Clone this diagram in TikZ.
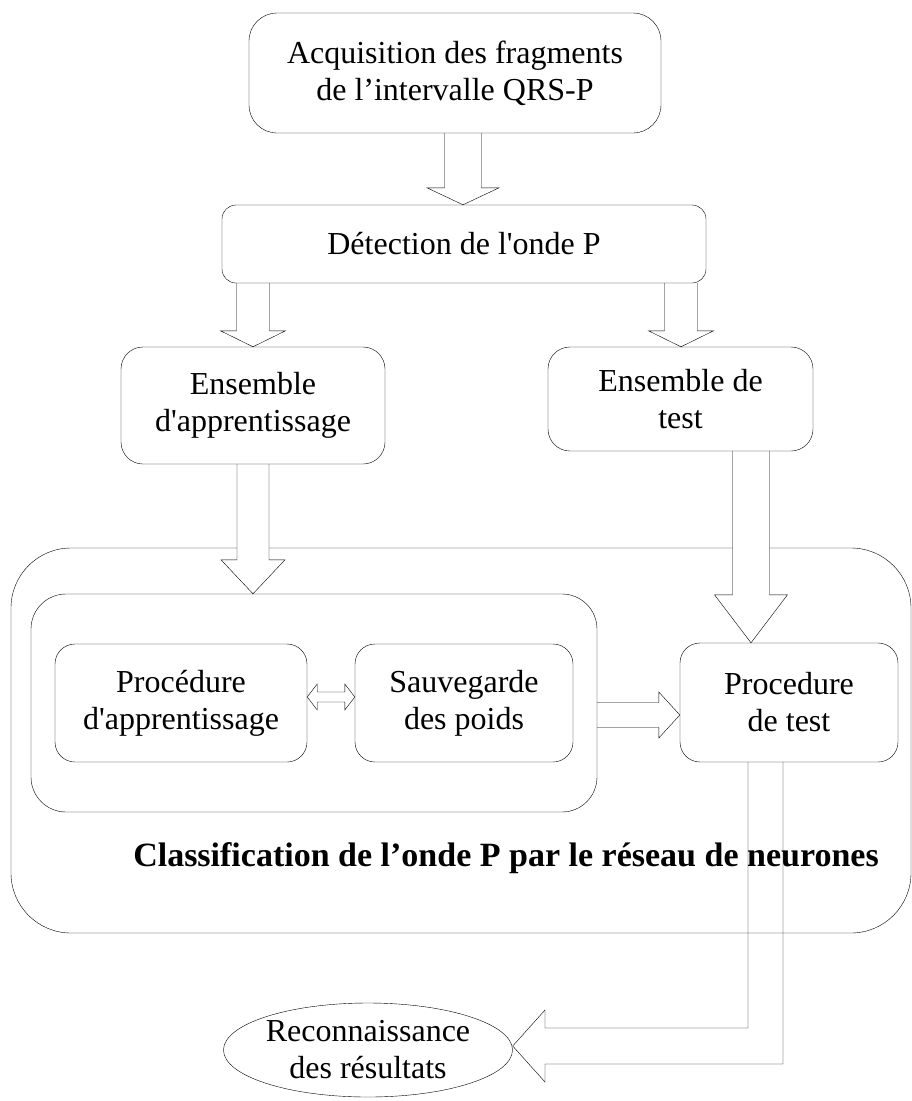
\documentclass[tikz,border=0pt]{standalone}
\usepackage{fontspec}
\setmainfont{Liberation Serif}[Ligatures=TeXOff]
\usetikzlibrary{calc,shapes.geometric}
\pgfdeclarelayer{bg}
\pgfsetlayers{bg,main}

% hollow block arrow pointing down: x, from, to, shaft half-width, head half-width, head length
\newcommand\blkdown[6]{\draw[blk] let \p1=(#2), \p2=(#3) in
  ({#1pt-#4pt},\y1) -- ({#1pt-#4pt},{\y2+#6pt}) -- ({#1pt-#5pt},{\y2+#6pt}) -- (#1pt,\y2)
  -- ({#1pt+#5pt},{\y2+#6pt}) -- ({#1pt+#4pt},{\y2+#6pt}) -- ({#1pt+#4pt},\y1);}
% hollow block arrow pointing right: row, from, to, shaft half-width, head half-width, head length
\newcommand\blkright[6]{\draw[blk] let \p1=(#2), \p2=(#3) in
  (\x1,{-#1pt+#4pt}) -- ({\x2-#6pt},{-#1pt+#4pt}) -- ({\x2-#6pt},{-#1pt+#5pt}) -- (\x2,-#1pt)
  -- ({\x2-#6pt},{-#1pt-#5pt}) -- ({\x2-#6pt},{-#1pt-#4pt}) -- (\x1,{-#1pt-#4pt});}
% hollow double-headed block arrow
\newcommand\blkboth[6]{\draw[blk] let \p1=(#2), \p2=(#3) in
  (\x1,-#1pt) -- ({\x1+#6pt},{-#1pt+#5pt}) -- ({\x1+#6pt},{-#1pt+#4pt}) -- ({\x2-#6pt},{-#1pt+#4pt})
  -- ({\x2-#6pt},{-#1pt+#5pt}) -- (\x2,-#1pt) -- ({\x2-#6pt},{-#1pt-#5pt}) -- ({\x2-#6pt},{-#1pt-#4pt})
  -- ({\x1+#6pt},{-#1pt-#4pt}) -- ({\x1+#6pt},{-#1pt-#5pt}) -- cycle;}

\begin{document}
\begin{tikzpicture}[x=1pt,y=-1pt,line width=2pt,
  txt/.style={font=\fontsize{32}{37}\selectfont},
  box/.style={draw,rounded corners=#1,align=center,inner sep=0pt,txt},
  blk/.style={draw,fill=white,line join=miter}]
\useasboundingbox (0,0) rectangle (912,1101);

% outer frame of the classification stage
\begin{pgfonlayer}{bg}
\node[draw,rounded corners=60,minimum width=900,minimum height=385,inner sep=0pt] (cls) at (461,740.5) {};
\end{pgfonlayer}

% processing steps
\node[box=28,minimum width=412,minimum height=120] (acq) at (455,73) {Acquisition des fragments\\de l’intervalle QRS-P};
\node[box=14,minimum width=484,minimum height=78] (det) at (464,244) {Détection de l'onde P};
\node[box=22,minimum width=264,minimum height=117] (app) at (253,405.5) {Ensemble\\d'apprentissage};
\node[box=22,minimum width=265,minimum height=104] (tst) at (680.5,399) {Ensemble de\\test};
\node[box=35,minimum width=566,minimum height=218] (trn) at (314,703) {};
\node[box=20,minimum width=252,minimum height=118] (pra) at (181,703) {Procédure\\d'apprentissage};
\node[box=20,minimum width=218,minimum height=118] (sav) at (464,703) {Sauvegarde\\des poids};
\node[box=20,minimum width=218,minimum height=119] (prt) at (789,702.5) {Procedure\\de test};
\node[font=\bfseries\fontsize{34}{37}\selectfont] (ttl) at (506,858) {Classification de l’onde P par le réseau de neurones};
\node[draw,ellipse,minimum width=244,minimum height=94,inner sep=0pt,txt,align=center] (res) at (368,1050) {Reconnaissance\\des résultats};

% block arrows between the steps
\begin{pgfonlayer}{bg}
\blkdown{463}{acq.south}{det.north}{18.5}{36}{17}
\blkdown{253}{det.south}{app.north}{16.5}{32.5}{16}
\blkdown{681}{det.south}{tst.north}{16.5}{32.5}{16}
\blkdown{253}{app.south}{trn.north}{16}{32}{34}
\blkdown{751}{tst.south}{prt.north}{18.5}{36.5}{48}
\blkboth{697}{pra.east}{sav.west}{5}{13}{10}
\blkright{715}{trn.east}{prt.west}{12.5}{23}{21}
\end{pgfonlayer}

% output arrow bending towards the result
\draw[line join=miter] let \p1=(prt.south), \p2=(res.east) in
  (748pt,\y1) -- (748pt,-1028pt) -- (545pt,-1028pt) -- (545pt,-1010pt) -- (\x2,-1046pt)
  -- (545pt,-1082pt) -- (545pt,-1064pt) -- (783pt,-1064pt) -- (783pt,\y1);
\end{tikzpicture}
\end{document}
